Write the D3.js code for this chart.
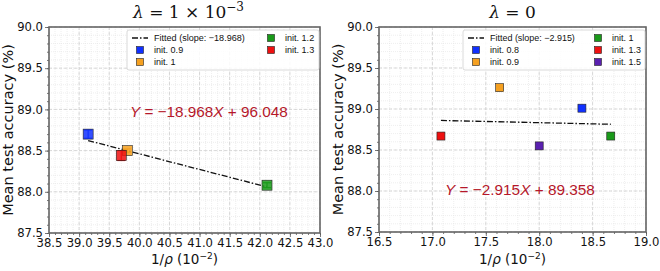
<!DOCTYPE html>
<html>
<head>
<meta charset="utf-8">
<script src="https://cdn.jsdelivr.net/npm/d3@7"></script>
<style>
  body { margin: 0; background: #fff; }
  svg { display: block; }
  text { font-family: "DejaVu Sans", sans-serif; }
</style>
</head>
<body>
<svg id="chart" width="660" height="271"></svg>
<script>
// left panel: lambda = 1e-3
var leftLabels = ["init. 0.9", "init. 1", "init. 1.2", "init. 1.3"];
var leftColors = ["#1030ff", "#f5a020", "#1a9a1a", "#ee1010"];
var leftX = [39.15, 39.8, 42.12, 39.7];
var leftY = [88.70, 88.50, 88.08, 88.44];
var leftErr = [0.05, 0.02, 0.03, 0.06];
var leftSlope = -18.968, leftIcpt = 96.048;

// right panel: lambda = 0
var rightLabels = ["init. 0.8", "init. 0.9", "init. 1", "init. 1.3", "init. 1.5"];
var rightColors = ["#1030ff", "#f5a020", "#1a9a1a", "#ee1010", "#5a20b0"];
var rightX = [18.40, 17.63, 18.67, 17.08, 18.00];
var rightY = [89.01, 89.26, 88.67, 88.67, 88.55];
var rightErr = [0, 0, 0, 0, 0];
var rightSlope = -2.915, rightIcpt = 89.358;

var yTicks = [87.5, 88.0, 88.5, 89.0, 89.5, 90.0];
var leftXTicks = [38.5, 39.0, 39.5, 40.0, 40.5, 41.0, 41.5, 42.0, 42.5, 43.0];
var rightXTicks = [16.5, 17.0, 17.5, 18.0, 18.5, 19.0];

var svg = d3.select("#chart");

// scale a text's font size so it spans the wanted width
function fitWidth(sel, size, want) {
  sel.style("font-size", size + "px");
  var w = sel.node().getComputedTextLength();
  var s = w > 0 ? size * want / w : size;
  sel.style("font-size", s + "px");
  return s;
}

function panel(o) {
  var g = svg.append("g");
  var x = d3.scaleLinear().domain(o.xDomain).range([o.left, o.right]);
  var y = d3.scaleLinear().domain([87.5, 90.0]).range([o.bottom, o.top]);

  // minor grid
  var xMinor = d3.range(o.xDomain[0], o.xDomain[1] + 0.001, 0.1);
  var yMinor = d3.range(87.5, 90.001, 0.1);
  g.selectAll(".gxm").data(xMinor).enter().append("line")
    .attr("x1", d => x(d)).attr("x2", d => x(d)).attr("y1", o.top).attr("y2", o.bottom)
    .attr("stroke", "#e3e3e3").attr("stroke-width", 0.6).attr("stroke-dasharray", "1,1");
  g.selectAll(".gym").data(yMinor).enter().append("line")
    .attr("y1", d => y(d)).attr("y2", d => y(d)).attr("x1", o.left).attr("x2", o.right)
    .attr("stroke", "#e3e3e3").attr("stroke-width", 0.6).attr("stroke-dasharray", "1,1");
  // major grid
  g.selectAll(".gx").data(o.xTicks).enter().append("line")
    .attr("x1", d => x(d)).attr("x2", d => x(d)).attr("y1", o.top).attr("y2", o.bottom)
    .attr("stroke", "#cfcfcf").attr("stroke-width", 0.8).attr("stroke-dasharray", "3,2");
  g.selectAll(".gy").data(yTicks).enter().append("line")
    .attr("y1", d => y(d)).attr("y2", d => y(d)).attr("x1", o.left).attr("x2", o.right)
    .attr("stroke", "#cfcfcf").attr("stroke-width", 0.8).attr("stroke-dasharray", "3,2");

  // axes
  var xa = g.append("g").attr("transform", "translate(0," + o.bottom + ")")
    .call(d3.axisBottom(x).tickValues(o.xTicks).tickFormat(d3.format(".1f")).tickSize(4).tickPadding(2));
  var xm = g.append("g").attr("transform", "translate(0," + o.bottom + ")")
    .call(d3.axisBottom(x).tickValues(xMinor).tickFormat("").tickSize(2));
  var ya = g.append("g").attr("transform", "translate(" + o.left + ",0)")
    .call(d3.axisLeft(y).tickValues(yTicks).tickFormat(d3.format(".1f")).tickSize(4).tickPadding(2));
  var ym = g.append("g").attr("transform", "translate(" + o.left + ",0)")
    .call(d3.axisLeft(y).tickValues(yMinor).tickFormat("").tickSize(2));
  [xa, xm, ya, ym].forEach(function(a) {
    a.select(".domain").remove();
    a.selectAll("line").attr("stroke", "#555").attr("stroke-width", 0.8);
    a.selectAll("text").attr("fill", "#111").style("font-size", "11.6px").style("font-family", "DejaVu Sans, sans-serif");
  });

  // frame
  g.append("rect").attr("x", o.left).attr("y", o.top)
    .attr("width", o.right - o.left).attr("height", o.bottom - o.top)
    .attr("fill", "none").attr("stroke", "#666").attr("stroke-width", 1.6);

  // fitted line over data range
  var xr = d3.extent(o.xs);
  var fit = xr.map(d => [d, o.slope * d / 100 + o.icpt]);
  g.append("path").datum(fit)
    .attr("d", d3.line().x(d => x(d[0])).y(d => y(d[1])))
    .attr("stroke", "#111").attr("stroke-width", 1.3).attr("fill", "none")
    .attr("stroke-dasharray", "6,2,1.5,2");

  // markers with error bars
  var pts = o.labels.map((l, i) => ({ l: l, c: o.colors[i], x: o.xs[i], y: o.ys[i], e: o.errs[i] }));
  var pg = g.selectAll(".pt").data(pts).enter().append("g");
  pg.filter(d => d.e > 0).each(function(d) {
    var s = d3.select(this);
    s.append("line").attr("x1", x(d.x)).attr("x2", x(d.x))
      .attr("y1", y(d.y - d.e)).attr("y2", y(d.y + d.e)).attr("stroke", d.c).attr("stroke-width", 1.2);
    [d.y - d.e, d.y + d.e].forEach(function(v) {
      s.append("line").attr("x1", x(d.x) - 4).attr("x2", x(d.x) + 4)
        .attr("y1", y(v)).attr("y2", y(v)).attr("stroke", d.c).attr("stroke-width", 1.2);
    });
  });
  pg.append("rect")
    .attr("x", d => x(d.x) - o.ms / 2).attr("y", d => y(d.y) - o.ms / 2)
    .attr("width", o.ms).attr("height", o.ms)
    .attr("fill", d => d.c).attr("fill-opacity", o.alpha)
    .attr("stroke", "#222").attr("stroke-width", 0.6);

  // legend
  var lg = g.append("g");
  lg.append("rect").attr("x", o.lx).attr("y", o.top + 3).attr("width", o.right - 1 - o.lx).attr("height", 40)
    .attr("fill", "#fff").attr("fill-opacity", 0.85).attr("stroke", "#d0d0d0").attr("stroke-width", 0.8).attr("rx", 2);
  var entries = [{ t: "Fitted (slope: \u2212" + Math.abs(o.slope).toFixed(3) + ")", line: true }]
    .concat(pts.map(p => ({ t: p.l, c: p.c })));
  var rowH = 12, legSize = 9;
  entries.forEach(function(e, i) {
    var col = i < 3 ? 0 : 1, row = i < 3 ? i : i - 3;
    var ex = col === 0 ? o.lx + 5 : o.lx2;
    var ey = o.top + 11 + row * rowH;
    if (e.line) {
      lg.append("line").attr("x1", ex).attr("x2", ex + 16).attr("y1", ey).attr("y2", ey)
        .attr("stroke", "#111").attr("stroke-width", 1.3).attr("stroke-dasharray", "6,2,1.5,2");
    } else {
      lg.append("rect").attr("x", ex + 4.5).attr("y", ey - 3.5).attr("width", 7).attr("height", 7)
        .attr("fill", e.c).attr("stroke", "#222").attr("stroke-width", 0.6);
    }
    var t = lg.append("text").attr("x", ex + 22).attr("y", ey + 3.3).text(e.t)
      .style("font-family", "'Liberation Sans', sans-serif").attr("fill", "#111");
    if (e.line) legSize = fitWidth(t, 9, o.legW);
    else t.style("font-size", legSize + "px");
  });

  // equation
  var eq = g.append("text").attr("x", o.eqx).attr("y", o.eqy)
    .attr("fill", "#b5172a").style("font-family", "'Liberation Sans', sans-serif");
  eq.append("tspan").attr("font-style", "italic").text("Y");
  eq.append("tspan").text(" = \u2212" + Math.abs(o.slope).toFixed(3));
  eq.append("tspan").attr("font-style", "italic").text("X");
  eq.append("tspan").text(" + " + o.icpt.toFixed(3));
  fitWidth(eq, 15.3, o.eqW);

  // title
  var mid = (o.left + o.right) / 2;
  var tt = g.append("text").attr("x", mid + o.tdx).attr("y", 18).attr("text-anchor", "middle")
    .style("font-family", "DejaVu Serif, serif").style("font-size", "17px").attr("fill", "#111");
  tt.append("tspan").attr("font-style", "italic").text("\u03bb");
  tt.append("tspan").text(" = " + o.title);
  if (o.sup) {
    tt.append("tspan").attr("dy", -7).style("font-size", "12px").text(o.sup);
  }

  // axis labels
  var xl = g.append("text").attr("x", mid).attr("y", 264).attr("text-anchor", "middle")
    .style("font-size", "13.5px").attr("fill", "#111");
  xl.append("tspan").text("1/");
  xl.append("tspan").attr("font-style", "italic").text("\u03c1");
  xl.append("tspan").text(" (10");
  xl.append("tspan").attr("dy", -5).style("font-size", "9px").text("\u22122");
  xl.append("tspan").attr("dy", 5).text(")");

  g.append("text").attr("transform", "translate(" + (o.left - 36) + "," + ((o.top + o.bottom) / 2) + ") rotate(-90)")
    .attr("text-anchor", "middle").style("font-size", "14.5px").attr("fill", "#111")
    .text("Mean test accuracy (%)");
}

panel({
  xDomain: [38.5, 43.0], xTicks: leftXTicks, left: 49, right: 320, top: 27, bottom: 233,
  labels: leftLabels, colors: leftColors, xs: leftX, ys: leftY, errs: leftErr,
  slope: leftSlope, icpt: leftIcpt, ms: 10, alpha: 0.85,
  lx: 127, lx2: 263, legW: 91, eqx: 130, eqy: 117, eqW: 158, tdx: 4,
  title: "1 \u00d7 10", sup: "\u22123"
});
panel({
  xDomain: [16.5, 19.0], xTicks: rightXTicks, left: 379, right: 646, top: 27, bottom: 232,
  labels: rightLabels, colors: rightColors, xs: rightX, ys: rightY, errs: rightErr,
  slope: rightSlope, icpt: rightIcpt, ms: 8, alpha: 1,
  lx: 463, lx2: 590, legW: 85, eqx: 445, eqy: 195, eqW: 150, tdx: 0,
  title: "0"
});
</script>
</body>
</html>
